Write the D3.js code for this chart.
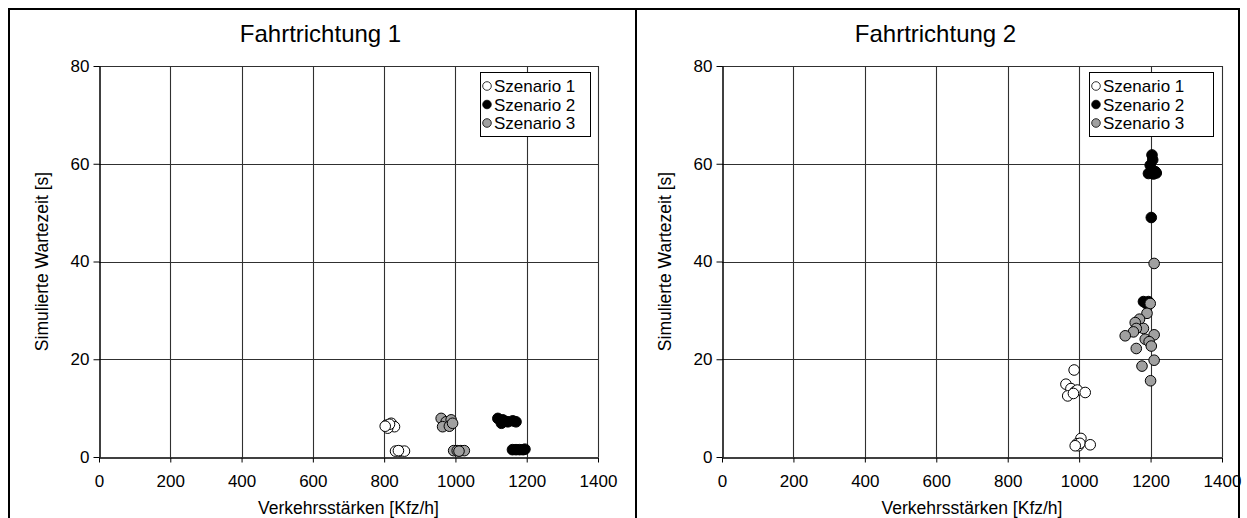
<!DOCTYPE html>
<html>
<head>
<meta charset="utf-8">
<script src="https://cdn.jsdelivr.net/npm/d3@7"></script>
<style>
html,body{margin:0;padding:0;background:#fff;}
svg{display:block;font-family:"Liberation Sans",Arial,sans-serif;}
</style>
</head>
<body>
<svg id="chart" width="1247" height="518"></svg>
<script>
// ---- data ----
const xTicks = [0, 200, 400, 600, 800, 1000, 1200, 1400];
const yTicks = [0, 20, 40, 60, 80];
const scenarioNames = ["Szenario 1", "Szenario 2", "Szenario 3"];
const panelTitles = ["Fahrtrichtung 1", "Fahrtrichtung 2"];

// Fahrtrichtung 1
const fr1_s1_x = [806, 820, 829, 810, 815, 803, 832, 845, 857, 840];
const fr1_s1_y = [6.5, 6.9, 6.2, 5.9, 6.7, 6.3, 1.2, 1.2, 1.2, 1.3];
const fr1_s2_x = [1119, 1133, 1147, 1161, 1170, 1129, 1140, 1160, 1170, 1180, 1190, 1195];
const fr1_s2_y = [7.9, 7.6, 7.2, 7.4, 7.2, 6.9, 7.3, 1.5, 1.5, 1.5, 1.5, 1.6];
const fr1_s3_x = [960, 974, 988, 964, 983, 992, 995, 1005, 1015, 1025, 1010];
const fr1_s3_y = [7.9, 7.2, 7.6, 6.2, 6.3, 6.9, 1.3, 1.3, 1.3, 1.3, 1.2];

// Fahrtrichtung 2
const fr2_s1_x = [986, 963, 977, 968, 989, 995, 1017, 984, 1005, 994, 998, 1002, 1031, 989];
const fr2_s1_y = [17.8, 14.9, 14.0, 12.5, 13.4, 13.7, 13.2, 13.0, 3.8, 2.7, 2.3, 2.8, 2.5, 2.3];
const fr2_s2_x = [1204, 1206, 1199, 1213, 1194, 1208, 1216, 1202, 1180, 1194, 1188];
const fr2_s2_y = [61.8, 60.8, 59.7, 58.4, 58.0, 57.9, 58.1, 49.0, 31.8, 31.8, 31.4];
const fr2_s3_x = [1210, 1199, 1190, 1169, 1157, 1180, 1160, 1152, 1129, 1210, 1185, 1196, 1202, 1160, 1210, 1176, 1200];
const fr2_s3_y = [39.6, 31.4, 29.4, 28.2, 27.5, 26.3, 26.3, 25.6, 24.8, 25.0, 24.1, 23.6, 22.7, 22.2, 19.8, 18.6, 15.6];

const fills = ["#ffffff", "#000000", "#a0a0a0"];

const zip = (xs, ys) => xs.map((x, i) => ({x: x, y: ys[i]}));
const panels = [
  {title: panelTitles[0], series: [zip(fr1_s1_x, fr1_s1_y), zip(fr1_s2_x, fr1_s2_y), zip(fr1_s3_x, fr1_s3_y)],
   frame: [9, 636], plot: {x0: 99, x1: 598, y0: 66, y1: 457}, legend: {x: 480, y: 72, w: 110, h: 64}},
  {title: panelTitles[1], series: [zip(fr2_s1_x, fr2_s1_y), zip(fr2_s2_x, fr2_s2_y), zip(fr2_s3_x, fr2_s3_y)],
   frame: [636, 1239], plot: {x0: 722, x1: 1222, y0: 66, y1: 457}, legend: {x: 1089, y: 72, w: 124, h: 64}}
];

const svg = d3.select("#chart");

// outer frames
svg.append("path")
  .attr("d", "M9,520 L9,9 L1239,9 L1239,520 M636,9 L636,520")
  .attr("fill", "none").attr("stroke", "#000").attr("stroke-width", 2);

panels.forEach(p => {
  const x = d3.scaleLinear().domain([0, 1400]).range([p.plot.x0, p.plot.x1]);
  const y = d3.scaleLinear().domain([0, 80]).range([p.plot.y1, p.plot.y0]);
  const g = svg.append("g");

  // gridlines
  g.append("g").selectAll("line").data(yTicks.filter(t => t > 0)).join("line")
    .attr("x1", p.plot.x0).attr("x2", p.plot.x1)
    .attr("y1", d => Math.round(y(d)) + 0.5).attr("y2", d => Math.round(y(d)) + 0.5)
    .attr("stroke", "#303030").attr("stroke-width", 1.1);
  g.append("g").selectAll("line").data(xTicks.filter(t => t > 0)).join("line")
    .attr("y1", p.plot.y0).attr("y2", p.plot.y1)
    .attr("x1", d => Math.round(x(d)) + 0.5).attr("x2", d => Math.round(x(d)) + 0.5)
    .attr("stroke", "#303030").attr("stroke-width", 1.1);

  // axes
  const xAxis = g.append("g")
    .attr("transform", `translate(0,${Math.round(p.plot.y1) + 0.5})`)
    .call(d3.axisBottom(x).tickValues(xTicks).tickFormat(d3.format("d")).tickSize(5).tickSizeOuter(0).tickPadding(12));
  const yAxis = g.append("g")
    .attr("transform", `translate(${Math.round(p.plot.x0) + 0.5},0)`)
    .call(d3.axisLeft(y).tickValues(yTicks).tickFormat(d3.format("d")).tickSize(6).tickSizeOuter(0).tickPadding(4));
  [xAxis, yAxis].forEach(a => {
    a.attr("font-family", "'Liberation Sans', Arial, sans-serif").attr("font-size", 17);
    a.selectAll("path.domain").attr("stroke", "#000").attr("stroke-width", 1.5);
    a.selectAll(".tick line").attr("stroke", "#000");
    a.selectAll(".tick text").attr("fill", "#000");
  });

  // titles
  const cx = (p.frame[0] + p.frame[1]) / 2;
  g.append("text").attr("x", cx - 2).attr("y", 42).attr("text-anchor", "middle")
    .attr("font-size", 24).text(p.title);
  g.append("text").attr("x", (p.plot.x0 + p.plot.x1) / 2).attr("y", 514).attr("text-anchor", "middle")
    .attr("font-size", 17.5).text("Verkehrsstärken [Kfz/h]");
  const ly = (p.plot.y0 + p.plot.y1) / 2;
  const lx = p.plot.x0 - 51;
  g.append("text").attr("transform", `translate(${lx},${ly}) rotate(-90)`).attr("text-anchor", "middle")
    .attr("font-size", 17.5).text("Simulierte Wartezeit [s]");

  // points
  p.series.forEach((s, si) => {
    g.append("g").selectAll("circle").data(s).join("circle")
      .attr("cx", d => x(d.x)).attr("cy", d => y(d.y)).attr("r", 5.3)
      .attr("fill", fills[si]).attr("stroke", "#000").attr("stroke-width", 1);
  });

  // legend
  const L = p.legend;
  const lg = g.append("g");
  lg.append("rect").attr("x", L.x + 0.5).attr("y", L.y + 0.5).attr("width", L.w).attr("height", L.h)
    .attr("fill", "#fff").attr("stroke", "#000").attr("stroke-width", 1);
  scenarioNames.forEach((n, i) => {
    const yy = L.y + 14 + i * 18.5;
    lg.append("circle").attr("cx", L.x + 7).attr("cy", yy).attr("r", 4.3)
      .attr("fill", fills[i]).attr("stroke", "#000").attr("stroke-width", 0.8);
    lg.append("text").attr("x", L.x + 14).attr("y", yy + 6).attr("font-size", 17).text(n);
  });
});
</script>
</body>
</html>
